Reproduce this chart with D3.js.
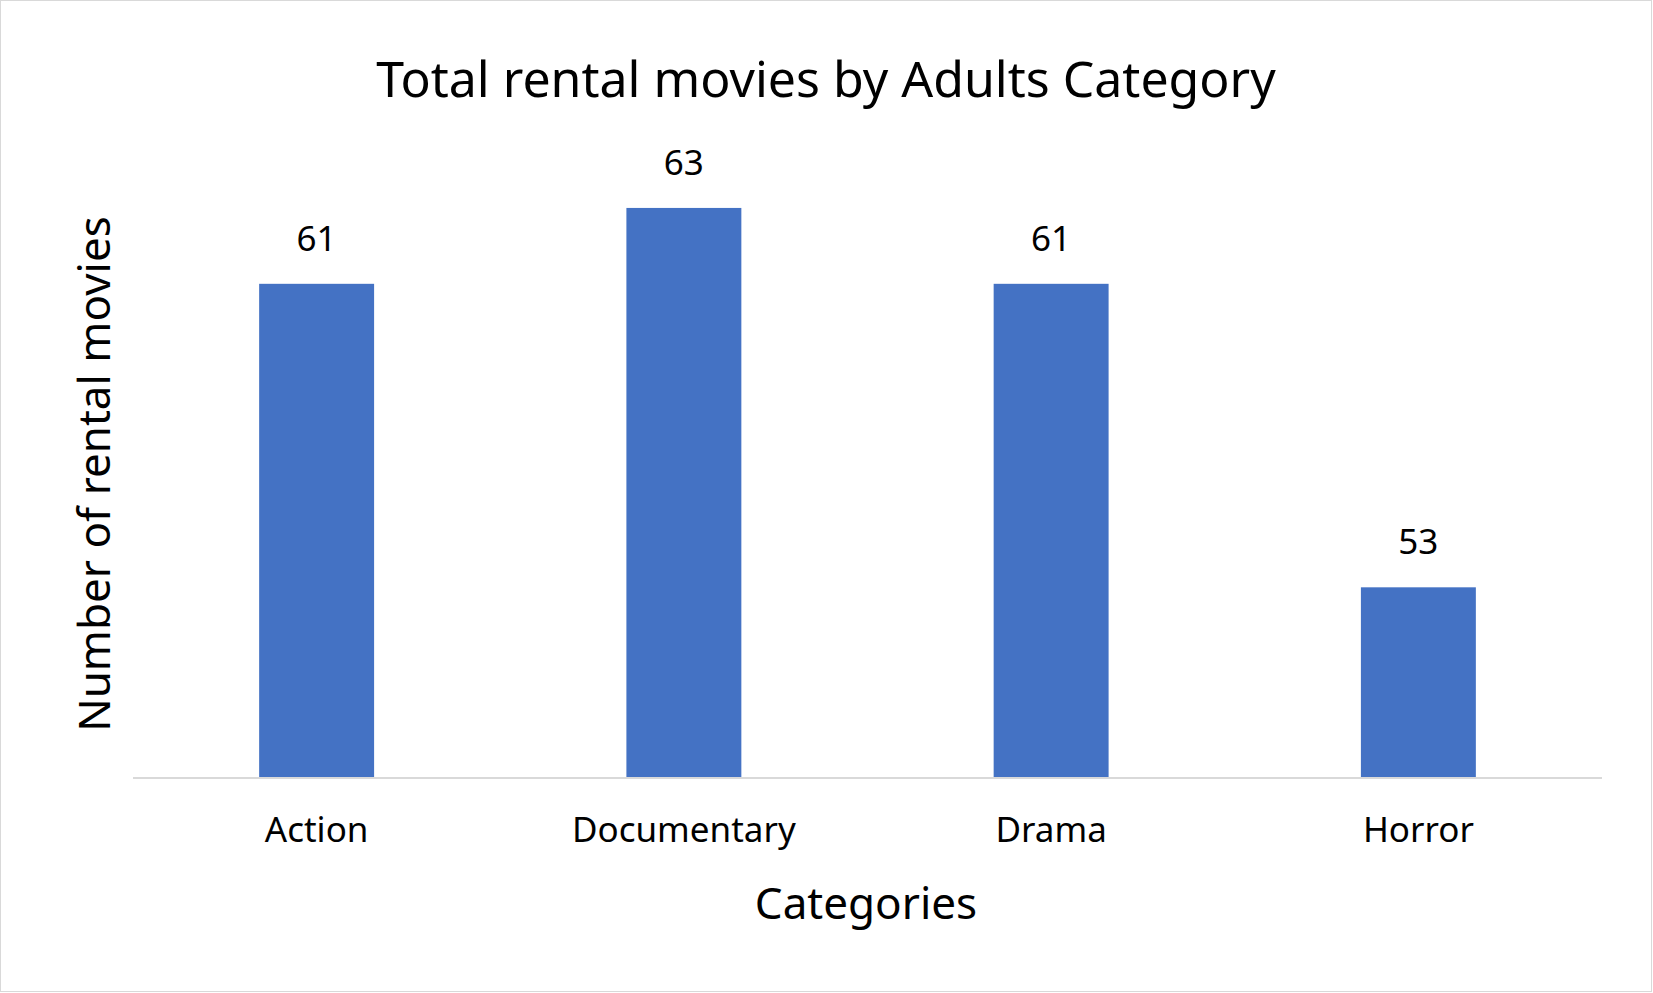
<!DOCTYPE html><html><head><meta charset="utf-8"><script src="https://cdn.jsdelivr.net/npm/d3@7"></script>
<style>body{margin:0;background:#fff}text{font-family:"Noto Sans",sans-serif;fill:#000}</style></head><body><svg id="c" width="1653" height="993"></svg>
<script>
const categories=["Action","Documentary","Drama","Horror"];
const values=[61,63,61,53];
const svg=d3.select("#c");
svg.append("rect").attr("x",0.5).attr("y",0.5).attr("width",1651).attr("height",991).attr("fill","#fff").attr("stroke","#d9d9d9");
const x=d3.scaleBand().domain(categories).range([133,1602]);
const y=d3.scaleLinear().domain([48,64]).range([777,170]);
const bw=x.step()*0.313;
svg.selectAll(".b").data(values).join("rect").attr("fill","#4472c4")
 .attr("x",(d,i)=>x(categories[i])+x.bandwidth()/2-bw/2).attr("width",bw)
 .attr("y",d=>y(d)).attr("height",d=>y(48)-y(d));
svg.append("line").attr("x1",133).attr("x2",1602).attr("y1",778).attr("y2",778).attr("stroke","#d9d9d9").attr("stroke-width",2);
svg.selectAll(".v").data(values).join("text").attr("text-anchor","middle").attr("font-size",35)
 .attr("x",(d,i)=>x(categories[i])+x.bandwidth()/2).attr("y",d=>y(d)-33).text(d=>d);
svg.selectAll(".c").data(categories).join("text").attr("text-anchor","middle").attr("font-size",35)
 .attr("x",d=>x(d)+x.bandwidth()/2).attr("y",842).text(d=>d);
svg.append("text").attr("text-anchor","middle").attr("font-size",50).attr("x",826).attr("y",97).text("Total rental movies by Adults Category");
svg.append("text").attr("text-anchor","middle").attr("font-size",44).attr("x",866).attr("y",919).text("Categories");
svg.append("text").attr("text-anchor","middle").attr("font-size",44).attr("transform","translate(110,474) rotate(-90)").text("Number of rental movies");
</script></body></html>
